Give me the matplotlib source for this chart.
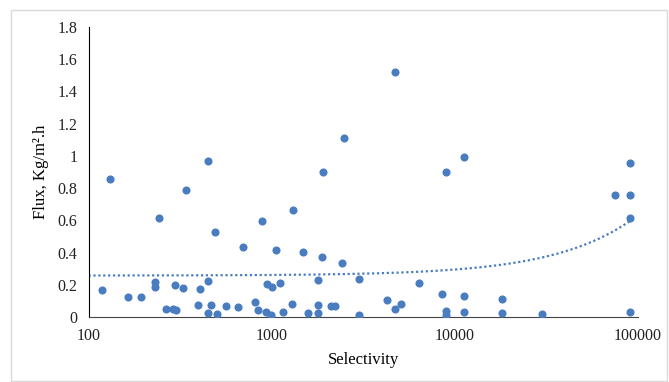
import numpy as np
from matplotlib import pyplot as plt

plt.rcParams["font.family"] = ["Liberation Serif", "DejaVu Serif"]

# selectivity (x) and flux (y)
selectivity = [131, 342, 244, 1306, 885, 489, 697, 1057, 1483, 1892, 2415,
               449, 1900, 2472, 4700, 11250, 8970, 90000, 74800, 90000, 90000,
               118, 164, 193, 232, 232, 298, 327, 264, 290, 301, 407, 451,
               397, 468, 447, 500, 561, 652, 815, 846, 927, 996, 940, 1000,
               1110, 1153, 1286, 1573, 1784, 1784, 1784, 2117, 2228, 2985, 2985,
               4266, 4700, 5111, 6385, 8530, 8970, 8970, 11250, 11250,
               17990, 17990, 29960, 90000]
flux = [0.855, 0.79, 0.617, 0.662, 0.596, 0.53, 0.435, 0.416, 0.404, 0.375, 0.338,
        0.971, 0.899, 1.113, 1.519, 0.994, 0.897, 0.954, 0.756, 0.756, 0.617,
        0.167, 0.122, 0.122, 0.215, 0.188, 0.196, 0.179, 0.049, 0.051, 0.045, 0.175, 0.223,
        0.072, 0.074, 0.023, 0.017, 0.066, 0.062, 0.093, 0.041, 0.033, 0.012, 0.204, 0.188,
        0.212, 0.029, 0.080, 0.025, 0.076, 0.025, 0.229, 0.066, 0.066, 0.235, 0.012,
        0.107, 0.051, 0.082, 0.212, 0.144, 0.039, 0.012, 0.128, 0.033,
        0.109, 0.023, 0.017, 0.029]

x = np.array(selectivity, dtype=float)
y = np.array(flux)

fig = plt.figure(figsize=(6.69, 3.82), dpi=100)
ax = fig.add_axes([88.5 / 669, 65 / 382, 549.5 / 669, 290 / 382])

blue = '#4a7dc0'
ax.scatter(x, y, s=34, color=blue, zorder=3, linewidths=0)

# linear trendline (as Excel does), drawn on the log axis
b, a = np.polyfit(x, y, 1)
xt = np.logspace(2, np.log10(x.max()), 300)
ax.plot(xt, a + b * xt, linestyle=(0, (1, 1.2)), color=blue, linewidth=1.6, zorder=2)

ax.set_xscale('log')
ax.set_xlim(100, 100000)
ax.set_ylim(0, 1.8)
ax.set_yticks(np.arange(0, 1.81, 0.2))
ax.set_yticklabels(['0', '0.2', '0.4', '0.6', '0.8', '1', '1.2', '1.4', '1.6', '1.8'])
ax.set_xticks([100, 1000, 10000, 100000])
ax.set_xticklabels(['100', '1000', '10000', '100000'])
ax.minorticks_off()
ax.tick_params(length=0, labelsize=11.5, colors='#222222', pad=8)

for s in ['top', 'right']:
    ax.spines[s].set_visible(False)
ax.spines['left'].set_color('black')
ax.spines['bottom'].set_color('#444444')

ax.set_xlabel('Selectivity', fontsize=12, labelpad=6)
ax.set_ylabel('Flux, Kg/m\u00b2.h', fontsize=12, labelpad=6)

# chart border
fig.patches.append(plt.Rectangle((11 / 669, 1 / 382), 656 / 669, 371 / 382,
                                 transform=fig.transFigure, fill=False,
                                 edgecolor='#d9d9d9', linewidth=1))

fig.savefig('out.png', dpi=100)
